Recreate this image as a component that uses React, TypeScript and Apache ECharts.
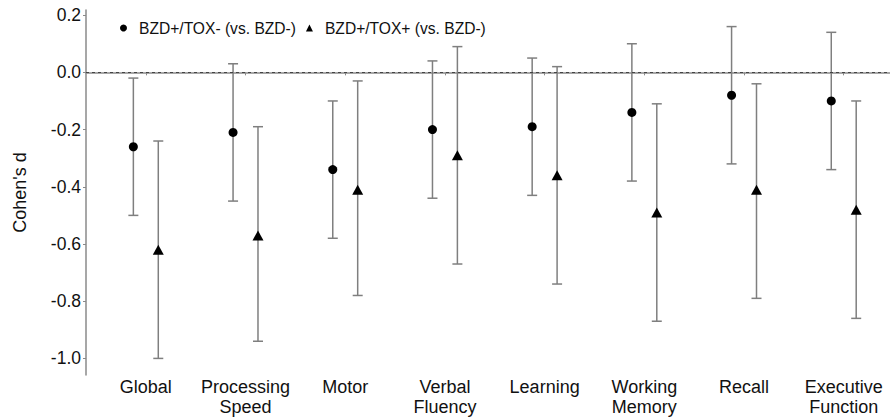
import React, { useEffect, useRef } from "react";
import * as echarts from "echarts";

const categories = [
  "Global",
  "Processing\nSpeed",
  "Motor",
  "Verbal\nFluency",
  "Learning",
  "Working\nMemory",
  "Recall",
  "Executive\nFunction",
];
const toxNegD = [-0.26, -0.21, -0.34, -0.2, -0.19, -0.14, -0.08, -0.1];
const toxNegLow = [-0.5, -0.45, -0.58, -0.44, -0.43, -0.38, -0.32, -0.34];
const toxNegHigh = [-0.02, 0.03, -0.1, 0.04, 0.05, 0.1, 0.16, 0.14];
const toxPosD = [-0.62, -0.57, -0.41, -0.29, -0.36, -0.49, -0.41, -0.48];
const toxPosLow = [-1.0, -0.94, -0.78, -0.67, -0.74, -0.87, -0.79, -0.86];
const toxPosHigh = [-0.24, -0.19, -0.03, 0.09, 0.02, -0.11, -0.04, -0.1];
const yTicks = [-1.0, -0.8, -0.6, -0.4, -0.2, 0.0, 0.2];
const seriesNames = ["BZD+/TOX- (vs. BZD-)", "BZD+/TOX+ (vs. BZD-)"];

const DODGE = 0.125;
const FONT = "Liberation Sans, Arial, sans-serif";
const AXIS_GRAY = "#8a8a8a";
const BAR_GRAY = "#7f7f7f";

export default function App() {
  const ref = useRef<HTMLDivElement>(null);
  useEffect(() => {
    if (!ref.current) return;
    const chart = echarts.init(ref.current, undefined, { renderer: "svg" });
    const xCenters = categories.map((_, i) => i + 1);

    const errData = (d: number[], lo: number[], hi: number[], off: number) =>
      d.map((_, i) => [i + 1 + off, lo[i], hi[i]]);

    const renderErr = (params: any, api: any) => {
      const x = api.value(0);
      const lo = api.coord([x, api.value(1)]);
      const hi = api.coord([x, api.value(2)]);
      const cap = 5;
      const style = { stroke: BAR_GRAY, lineWidth: 1.5 };
      return {
        type: "group",
        children: [
          { type: "line", shape: { x1: lo[0], y1: lo[1], x2: hi[0], y2: hi[1] }, style },
          { type: "line", shape: { x1: lo[0] - cap, y1: lo[1], x2: lo[0] + cap, y2: lo[1] }, style },
          { type: "line", shape: { x1: hi[0] - cap, y1: hi[1], x2: hi[0] + cap, y2: hi[1] }, style },
        ],
      };
    };

    chart.setOption({
      animation: false,
      textStyle: { fontFamily: FONT },
      grid: { left: 86, right: 0, top: 10, bottom: 45 },
      legend: {
        left: 115,
        top: 15,
        itemWidth: 7,
        itemHeight: 7,
        itemGap: 10,
        data: [
          { name: seriesNames[0], icon: "circle" },
          { name: seriesNames[1], icon: "triangle" },
        ],
        textStyle: { fontSize: 15.6, color: "#111", fontFamily: FONT, padding: [0, 0, 0, 7] },
      },
      xAxis: {
        type: "value",
        min: 0.4,
        max: 8.464,
        splitLine: { show: false },
        axisLine: { show: true, lineStyle: { color: AXIS_GRAY, width: 1.5 } },
        axisTick: { show: true, length: 3, lineStyle: { color: AXIS_GRAY }, customValues: xCenters },
        axisLabel: {
          customValues: xCenters,
          formatter: (v: number) => categories[Math.round(v) - 1] ?? "",
          fontSize: 18,
          lineHeight: 20,
          color: "#111",
          margin: 2,
          fontFamily: FONT,
        },
      },
      yAxis: {
        type: "value",
        min: -1.058,
        max: 0.218,
        name: "Cohen's d",
        nameLocation: "middle",
        nameGap: 57,
        nameTextStyle: { fontSize: 18, color: "#111", fontFamily: FONT },
        splitLine: { show: false },
        axisLine: { show: true, lineStyle: { color: AXIS_GRAY, width: 1.5 } },
        axisTick: { show: true, length: 3, lineStyle: { color: AXIS_GRAY }, customValues: yTicks },
        axisLabel: {
          customValues: yTicks,
          formatter: (v: number) => v.toFixed(1),
          fontSize: 17.5,
          color: "#111",
          margin: 5,
          fontFamily: FONT,
        },
      },
      series: [
        {
          type: "custom",
          name: "err-neg",
          renderItem: renderErr,
          data: errData(toxNegD, toxNegLow, toxNegHigh, -DODGE),
          encode: { x: 0, y: [1, 2] },
          silent: true,
          z: 1,
          markLine: {
            silent: true,
            symbol: "none",
            label: { show: false },
            lineStyle: { type: [3, 3], color: "#444", width: 1 },
            data: [{ yAxis: 0 }],
          },
        },
        {
          type: "custom",
          name: "err-pos",
          renderItem: renderErr,
          data: errData(toxPosD, toxPosLow, toxPosHigh, DODGE),
          encode: { x: 0, y: [1, 2] },
          silent: true,
          z: 1,
        },
        {
          type: "scatter",
          name: seriesNames[0],
          symbol: "circle",
          symbolSize: 9,
          itemStyle: { color: "#000", opacity: 1 },
          data: toxNegD.map((v, i) => [i + 1 - DODGE, v]),
          z: 3,
        },
        {
          type: "scatter",
          name: seriesNames[1],
          symbol: "triangle",
          symbolSize: [11, 10],
          itemStyle: { color: "#000", opacity: 1 },
          data: toxPosD.map((v, i) => [i + 1 + DODGE, v]),
          z: 3,
        },
      ],
    });
    return () => chart.dispose();
  }, []);
  return (
    <div
      ref={ref}
      style={{ position: "fixed", left: 0, top: 0, width: 890, height: 420, background: "#fff" }}
    />
  );
}
